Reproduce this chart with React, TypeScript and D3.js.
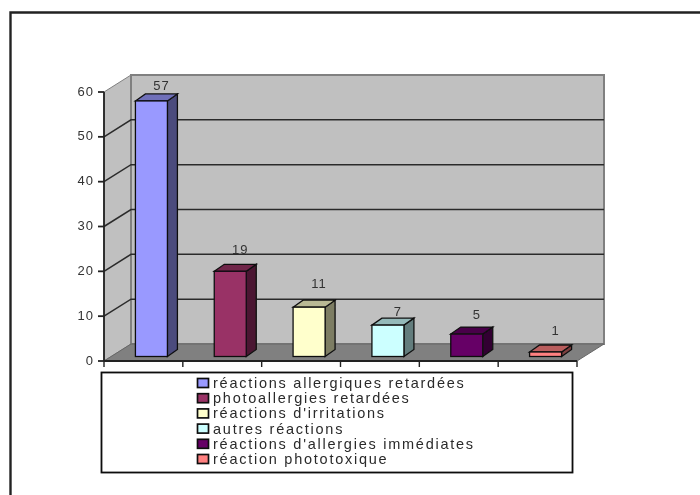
import * as d3 from "d3";

const categories = [
  "réactions allergiques retardées",
  "photoallergies retardées",
  "réactions d'irritations",
  "autres réactions",
  "réactions d'allergies immédiates",
  "réaction phototoxique",
];
const values = [57, 19, 11, 7, 5, 1];
const yTicks = [0, 10, 20, 30, 40, 50, 60];
const colors = ["#9999ff", "#993366", "#ffffcc", "#ccffff", "#660066", "#ff8080"];

const width = 700;
const height = 495;
const left = 104;
const right = 577;
const bottom = 361;
const top = 92;
// 3d depth of the box and of the bars
const depthX = 27;
const depthY = 17;
const barDepthX = 10;
const barDepthY = 7;
const barInsetX = 8;
const barInsetY = 4.5;
// how far each value label sits above its bar
const labelLift = [16, 22, 23.5, 13.5, 19.5, 21.5];

const x = d3.scaleBand<string>().domain(categories).range([left, right]);
const y = d3.scaleLinear().domain([0, 60]).range([bottom, top]);
const legendY = d3.scalePoint<string>().domain(categories).range([383, 459]);
const poly = d3.line();
const ticksX = categories.map((c) => x(c)!).concat(right);

const shade = (c: string, k: number) => d3.rgb(c).darker(k).formatHex();

export default function App() {
  const barW = 32;
  return (
    <svg
      width={width}
      height={height}
      style={{ position: "absolute", left: 0, top: 0, background: "#fff" }}
      fontFamily="'Liberation Sans', Arial, sans-serif"
    >
      <defs>
        <filter id="soft" x="-5%" y="-5%" width="110%" height="110%">
          <feGaussianBlur stdDeviation="0.55" />
        </filter>
      </defs>
      <g filter="url(#soft)">
        {/* page frame, runs off the right and bottom */}
        <path d={`M10.5,${height} V12.5 H${width}`} fill="none" stroke="#222" strokeWidth={2.4} />

        {/* walls and floor */}
        <path
          d={poly([[left, y(60)], [left + depthX, y(60) - depthY], [left + depthX, y(0) - depthY], [left, y(0)]])! + "Z"}
          fill="#c0c0c0"
          stroke="#808080"
        />
        <path
          d={poly([[left + depthX, y(60) - depthY], [right + depthX, y(60) - depthY], [right + depthX, y(0) - depthY], [left + depthX, y(0) - depthY]])! + "Z"}
          fill="#c0c0c0"
          stroke="#808080"
          strokeWidth={2}
        />
        <path
          d={poly([[left, y(0)], [left + depthX, y(0) - depthY], [right + depthX, y(0) - depthY], [right, y(0)]])! + "Z"}
          fill="#808080"
          stroke="#666"
        />

        {/* grid lines */}
        {yTicks.slice(1, -1).map((t) => (
          <path
            key={t}
            d={poly([[left, y(t)], [left + depthX, y(t) - depthY], [right + depthX, y(t) - depthY]])!}
            fill="none"
            stroke="#2c2c2c"
            strokeWidth={1.5}
          />
        ))}

        {/* axes */}
        <line x1={left} x2={left} y1={y(60)} y2={y(0)} stroke="#222" strokeWidth={1.8} />
        <line x1={left} x2={right} y1={y(0)} y2={y(0)} stroke="#222" strokeWidth={1.8} />
        {yTicks.map((t) => (
          <g key={t}>
            <line x1={left - 6} x2={left} y1={y(t)} y2={y(t)} stroke="#222" strokeWidth={1.8} />
            <text x={left - 10} y={y(t) - 1} dy="0.35em" textAnchor="end" fontSize={13} letterSpacing={1} fill="#333">
              {t}
            </text>
          </g>
        ))}
        {ticksX.map((t) => (
          <line key={t} x1={t} x2={t} y1={y(0)} y2={y(0) + 6} stroke="#222" strokeWidth={1.4} />
        ))}

        {/* bars */}
        {categories.map((c, i) => {
          const x0 = x(c)! + (x.bandwidth() - barW) / 2 + barInsetX;
          const x1 = x0 + barW;
          const yTop = y(values[i]) - barInsetY;
          const yBase = y(0) - barInsetY;
          return (
            <g key={c} stroke="#111" strokeWidth={1.3}>
              <path
                d={poly([[x1, yTop], [x1 + barDepthX, yTop - barDepthY], [x1 + barDepthX, yBase - barDepthY], [x1, yBase]])! + "Z"}
                fill={shade(colors[i], 2)}
              />
              <path
                d={poly([[x0, yTop], [x0 + barDepthX, yTop - barDepthY], [x1 + barDepthX, yTop - barDepthY], [x1, yTop]])! + "Z"}
                fill={shade(colors[i], 0.9)}
              />
              <rect x={x0} y={yTop} width={barW} height={yBase - yTop} fill={colors[i]} />
              <text
                x={(x0 + x1) / 2 + barDepthX}
                y={yTop - labelLift[i]}
                dy="0.35em"
                textAnchor="middle"
                fontSize={13}
                letterSpacing={1}
                fill="#333"
                stroke="none"
              >
                {values[i]}
              </text>
            </g>
          );
        })}

        {/* legend */}
        <rect x={101.5} y={372.5} width={471} height={100} fill="#fff" stroke="#111" strokeWidth={1.8} />
        {categories.map((c, i) => (
          <g key={c}>
            <rect x={197.5} y={legendY(c)! - 4.5} width={11} height={9} fill={colors[i]} stroke="#111" strokeWidth={1.7} />
            <text x={213} y={legendY(c)!} dy="0.35em" fontSize={14.5} letterSpacing={1.75} fill="#2a2a2a">
              {c}
            </text>
          </g>
        ))}
      </g>
    </svg>
  );
}
